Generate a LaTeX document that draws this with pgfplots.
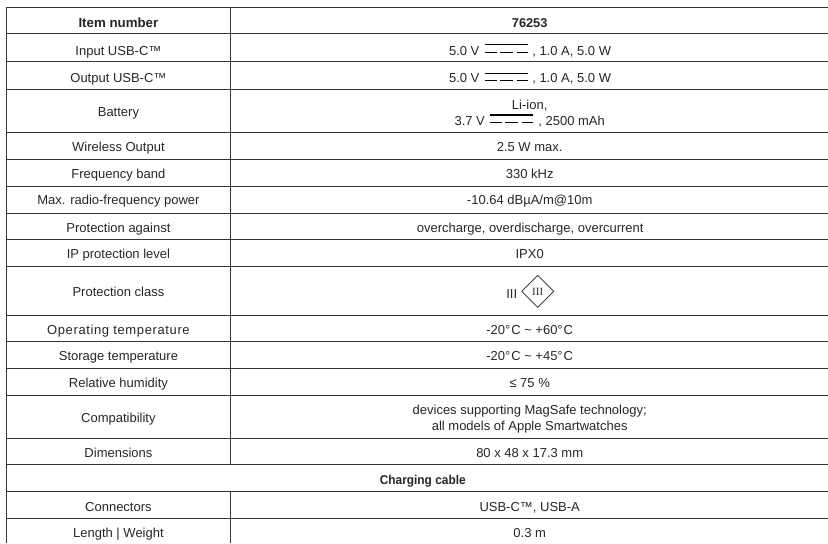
\documentclass[border=0pt]{standalone}
\usepackage{fontspec}
\setmainfont{Liberation Sans}
\newfontfamily\serifthin{Liberation Serif}
\newfontface\spaced[LetterSpace=4.8]{Liberation Sans}
\newfontface\narrowbold[FakeStretch=0.93]{Liberation Sans Bold}
\newcommand\widebold{\fontsize{13.3}{15}\selectfont}
\usepackage{pgfplots}
\usepackage{pgfplotstable}
\pgfplotsset{compat=1.18}

% table rules, in picture pixels (y runs down)
\pgfplotstableread[row sep=\\]{
x y\\
6 8\\ 828 8\\ nan nan\\
6 34\\ 828 34\\ nan nan\\
6 62\\ 828 62\\ nan nan\\
6 90\\ 828 90\\ nan nan\\
6 133\\ 828 133\\ nan nan\\
6 160\\ 828 160\\ nan nan\\
6 187\\ 828 187\\ nan nan\\
6 214\\ 828 214\\ nan nan\\
6 240\\ 828 240\\ nan nan\\
6 267\\ 828 267\\ nan nan\\
6 316\\ 828 316\\ nan nan\\
6 342\\ 828 342\\ nan nan\\
6 369\\ 828 369\\ nan nan\\
6 396\\ 828 396\\ nan nan\\
6 439\\ 828 439\\ nan nan\\
6 465\\ 828 465\\ nan nan\\
6 492\\ 828 492\\ nan nan\\
6 519\\ 828 519\\ nan nan\\
7 8\\ 7 543\\ nan nan\\
230.5 8\\ 230.5 465\\ nan nan\\
230.5 492\\ 230.5 543\\
}\rules

% direct current sign: solid stroke over three dashes
\pgfplotstableread[row sep=\\]{
x y\\
485 44.7\\ 528 44.7\\ nan nan\\
485 52.5\\ 497 52.5\\ nan nan\\
500.5 52.5\\ 513 52.5\\ nan nan\\
517 52.5\\ 528 52.5\\ nan nan\\
485 73.3\\ 528 73.3\\ nan nan\\
485 80.7\\ 497 80.7\\ nan nan\\
500.5 80.7\\ 513 80.7\\ nan nan\\
517 80.7\\ 528 80.7\\ nan nan\\
490 115\\ 533 115\\ nan nan\\
490 122.5\\ 502 122.5\\ nan nan\\
505.5 122.5\\ 518 122.5\\ nan nan\\
522 122.5\\ 533 122.5\\
}\dcsign

\pgfplotstableread[row sep=\\]{
x y\\
522 291.5\\ 538 275.5\\ 554 291.5\\ 538 307.5\\ 522 291.5\\
}\classthree

\pgfplotstableread[col sep=semicolon,row sep=\\]{
x;y;t\\
118.5;55.5;Input USB-C™\\
118.5;83;Output USB-C™\\
118.5;117;Battery\\
118.5;152;Wireless Output\\
118.5;179;Frequency band\\
118.5;205;Max. radio-frequency power\\
118.5;233;Protection against\\
118.5;259;IP protection level\\
118.5;297;Protection class\\
118.5;334.5;\spaced Operating temperature\\
118.5;361;Storage temperature\\
118.5;387.5;Relative humidity\\
118.5;422.5;Compatibility\\
118.5;458;Dimensions\\
118.5;512;Connectors\\
118.5;538;Length | Weight\\
464.5;55.5;5.0 V\\
572;55.5;, 1.0 A, 5.0 W\\
464.5;83;5.0 V\\
572;83;, 1.0 A, 5.0 W\\
530;110;Li-ion,\\
470;126;3.7 V\\
572;126;, 2500 mAh\\
530;152;2.5 W max.\\
530;179;330 kHz\\
530;205;-10.64 dBµA/m@10m\\
530.5;232.5;overcharge, overdischarge, overcurrent\\
530;259;IPX0\\
512;298.5;III\\
530;334.5;-20°\kern1pt C \textasciitilde{} +60°\kern1pt C\\
530;361;-20°\kern1pt C \textasciitilde{} +45°\kern1pt C\\
530;387.5;≤ 75 \%\\
530;414.5;devices supporting MagSafe technology\char59{}\\
530;430.5;all models of Apple Smartwatches\\
530;458;80 x 48 x 17.3 mm\\
530;512;USB-C™, USB-A\\
530;538;0.3 m\\
}\bodytext

\pgfplotstableread[col sep=semicolon,row sep=\\]{
x;y;t\\
118.5;27.5;\widebold Item number\\
530;27.5;76253\\
423;485;\narrowbold Charging cable\\
}\boldtext

\begin{document}
\begin{tikzpicture}
\begin{axis}[
  width=828pt, height=543pt, scale only axis,
  xmin=0, xmax=828, ymin=0, ymax=543, y dir=reverse,
  hide axis, clip=false,
  unbounded coords=jump,
  every node near coord/.style={anchor=base, inner sep=0pt, outer sep=0pt, text=black!85, font=\fontsize{13}{15}\selectfont},
]
% keeps the page as large as the axis box
\addplot[draw=none, no markers] coordinates {(0,0) (828,543)};
\addplot[black!80, line width=1pt, no markers] table[x=x,y=y] {\rules};
\addplot[black, line width=1.4pt, no markers] table[x=x,y=y] {\dcsign};
\addplot[black!85, line width=0.7pt, no markers] table[x=x,y=y] {\classthree};
\addplot[only marks, mark=none, point meta=explicit symbolic, nodes near coords]
  table[x=x,y=y,meta=t] {\bodytext};
\addplot[only marks, mark=none, point meta=explicit symbolic, nodes near coords,
  every node near coord/.append style={font=\fontsize{12.8}{15}\selectfont\bfseries}]
  table[x=x,y=y,meta=t] {\boldtext};
\addplot[only marks, mark=none, point meta=explicit symbolic, nodes near coords,
  every node near coord/.append style={font=\fontsize{11}{12}\selectfont\serifthin}]
  table[x=x,y=y,meta=t] {
x y t
538 296 III
};
\end{axis}
\end{tikzpicture}
\end{document}
